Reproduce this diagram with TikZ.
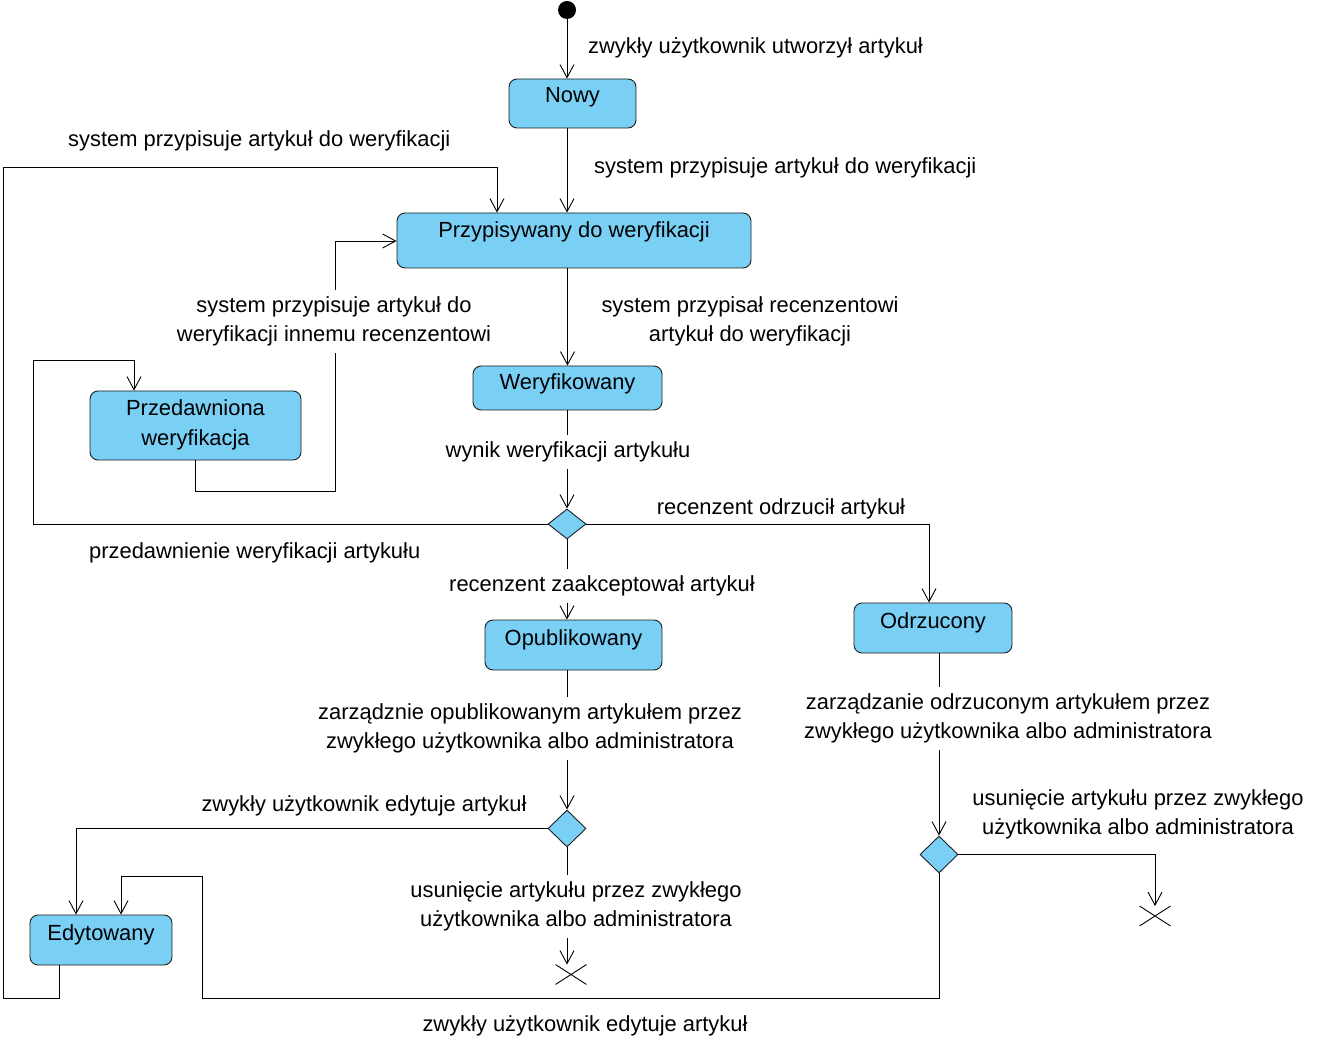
\documentclass[tikz,border=0pt]{standalone}
\usepackage{fontspec}
\setmainfont{Liberation Sans}
\usetikzlibrary{arrows.meta,shapes.geometric,shapes.misc}
\definecolor{stfill}{RGB}{122,207,245}
\definecolor{stdraw}{RGB}{30,30,30}
\begin{document}
\begin{tikzpicture}[x=1pt,y=-1pt,
  every node/.style={font=\fontsize{21.9}{29}\selectfont},
  state/.style={draw=stdraw,fill=stfill,rounded corners=8pt,line width=0.9pt,inner sep=0pt},
  txt/.style={inner sep=0pt,anchor=base},
  lbl/.style={inner sep=0pt,align=center},
  wlbl/.style={fill=white,inner xsep=2pt,inner ysep=7pt,align=center},
  dec/.style={diamond,draw=stdraw,fill=stfill,line width=0.9pt,inner sep=0pt},
  arr/.style={-{Straight Barb[length=13pt,width=14pt,line width=0.9pt]},line width=0.9pt},
  ln/.style={line width=0.9pt},
  endx/.style={cross out,draw,line width=0.9pt,inner sep=0pt,minimum width=30pt,minimum height=19pt}
]
\path[use as bounding box,fill=white] (0,0) rectangle (1328,1040);

% initial
\node[circle,fill=black,inner sep=0pt,minimum size=18pt] (init) at (567,10) {};

% states
\node[state,minimum width=127pt,minimum height=49pt] (nowy) at (572.5,103.5) {};
\node[txt] at (572.5,103) {Nowy};
\node[state,minimum width=354pt,minimum height=55pt] (przyp) at (574,240.5) {};
\node[txt] at (574,238) {Przypisywany do weryfikacji};
\node[state,minimum width=189pt,minimum height=44pt] (weryf) at (567.5,388) {};
\node[txt] at (567.5,390) {Weryfikowany};
\node[state,minimum width=211pt,minimum height=69pt] (przed) at (195.5,425.5) {};
\node[txt] at (195.5,416) {Przedawniona};
\node[txt] at (195.5,445) {weryfikacja};
\node[state,minimum width=177pt,minimum height=50pt] (opub) at (573.5,645) {};
\node[txt] at (573.5,645) {Opublikowany};
\node[state,minimum width=158pt,minimum height=50pt] (odrz) at (933,628) {};
\node[txt] at (933,628) {Odrzucony};
\node[state,minimum width=142pt,minimum height=50pt] (edyt) at (101,940) {};
\node[txt] at (101,940) {Edytowany};

% decisions
\node[dec,minimum width=38pt,minimum height=30pt] (d1) at (567,524) {};
\node[dec,minimum width=38pt,minimum height=37pt] (d2) at (567,828.5) {};
\node[dec,minimum width=38pt,minimum height=37pt] (d3) at (939,854.5) {};

% final crosses
\node[endx] (x1) at (571,974.5) {};
\node[endx] (x2) at (1155,916) {};

% helper coordinates
\coordinate (c1a) at (33,524); \coordinate (c1b) at (33,360); \coordinate (c1c) at (134,360);
\coordinate (c2a) at (929,524);
\coordinate (c3a) at (195,491); \coordinate (c3b) at (335,491); \coordinate (c3c) at (335,241);
\coordinate (c4a) at (76,828.5);
\coordinate (c5a) at (1155,854.5);
\coordinate (c6a) at (939,998); \coordinate (c6b) at (202,998); \coordinate (c6c) at (202,876); \coordinate (c6d) at (121,876);
\coordinate (c7a) at (59,998); \coordinate (c7b) at (3,998); \coordinate (c7c) at (3,167); \coordinate (c7d) at (497,167);

% connectors
\draw[arr] (init) -- (init |- nowy.north);
\draw[arr] (nowy.south -| init) -- (przyp.north -| init);
\draw[arr] (przyp.south -| weryf) -- (weryf.north);
\draw[arr] (weryf.south -| d1) -- (d1.north);
\draw[arr] (d1.south) -- (opub.north -| d1);
\draw[arr] (d1.west) -- (c1a) -- (c1b) -- (c1c) -- (przed.north -| c1c);
\draw[arr] (d1.east) -- (c2a) -- (odrz.north -| c2a);
\draw[arr] (przed.south -| c3a) -- (c3a) -- (c3b) -- (c3c) -- (przyp.west |- c3c);
\draw[arr] (opub.south -| d2) -- (d2.north);
\draw[arr] (d2.west) -- (c4a) -- (edyt.north -| c4a);
\draw[arr] (d2.south) -- (x1.north -| d2);
\draw[arr] (odrz.south -| d3) -- (d3.north);
\draw[arr] (d3.east) -- (c5a) -- (x2.north);
\draw[arr] (d3.south) -- (c6a) -- (c6b) -- (c6c) -- (c6d) -- (edyt.north -| c6d);
\draw[arr] (edyt.south -| c7a) -- (c7a) -- (c7b) -- (c7c) -- (c7d) -- (przyp.north -| c7d);

% labels
\node[lbl,anchor=west] (l1) at (588,48) {zwykły użytkownik utworzył artykuł};
\node[lbl,anchor=west] (l2) at (594,168) {system przypisuje artykuł do weryfikacji};
\node[lbl,anchor=west] (l3) at (68,141) {system przypisuje artykuł do weryfikacji};
\node[wlbl] (l4) at (334,321.5) {system przypisuje artykuł do\\weryfikacji innemu recenzentowi};
\node[lbl] (l5) at (750,321.5) {system przypisał recenzentowi\\artykuł do weryfikacji};
\node[wlbl] (l6) at (568,452) {wynik weryfikacji artykułu};
\node[lbl] (l7) at (781,509) {recenzent odrzucił artykuł};
\node[lbl,anchor=west] (l8) at (89,553) {przedawnienie weryfikacji artykułu};
\node[wlbl] (l9) at (602,586) {recenzent zaakceptował artykuł};
\node[wlbl] (l10) at (530,728.5) {zarządznie opublikowanym artykułem przez\\zwykłego użytkownika albo administratora};
\node[wlbl] (l11) at (1008,718.5) {zarządzanie odrzuconym artykułem przez\\zwykłego użytkownika albo administratora};
\node[lbl] (l12) at (1138,814.5) {usunięcie artykułu przez zwykłego\\użytkownika albo administratora};
\node[lbl] (l13) at (364,806) {zwykły użytkownik edytuje artykuł};
\node[wlbl] (l14) at (576,906.5) {usunięcie artykułu przez zwykłego\\użytkownika albo administratora};
\node[lbl] (l15) at (585,1026) {zwykły użytkownik edytuje artykuł};
\end{tikzpicture}
\end{document}
